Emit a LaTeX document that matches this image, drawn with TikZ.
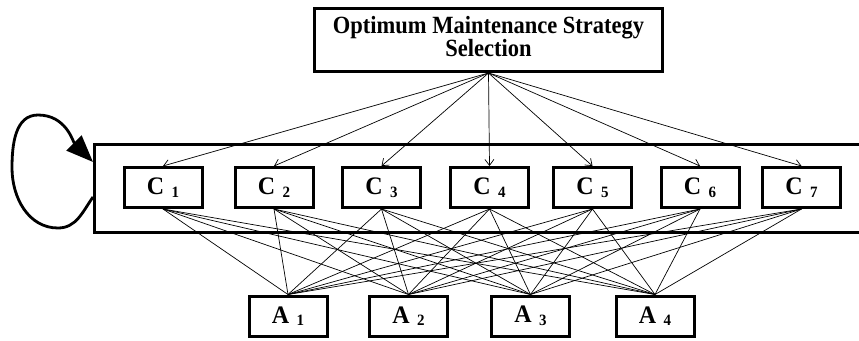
\documentclass[tikz,border=0pt]{standalone}
\usepackage{fontspec}
\setmainfont{Liberation Serif}
\usetikzlibrary{arrows.meta}
% letter with a lowered index, set a little taller than wide
\newcommand{\lbl}[2]{\scalebox{1}[1.05]{\fontsize{24}{24}\selectfont #1\hspace{0.3em}\raisebox{-2.5pt}{\fontsize{15}{15}\selectfont #2}}}

\begin{document}
\begin{tikzpicture}[
  x=1pt, y=-1pt,
  font=\bfseries\fontsize{22.5}{23}\selectfont,
  frm/.style={rectangle, draw, line width=3pt, inner sep=0pt},
  blk/.style={frm, minimum width=78pt, minimum height=40pt},
  arw/.style={-{Straight Barb[length=6pt, width=9pt]}, line width=0.7pt},
  lnk/.style={line width=0.7pt},
  fb/.style={-{Triangle[length=27pt, width=21pt]}, line width=2.8pt}
]
\useasboundingbox (0,0) rectangle (859,340);
\clip (0,0) rectangle (859,340);

% goal and the criteria cluster
\node[frm, minimum width=348pt, minimum height=63pt] (goal) at (488.5,40)
  {\scalebox{1}[1.1]{\begin{tabular}{@{}c@{}}Optimum Maintenance Strategy\\[-2pt]Selection\end{tabular}}};
\node[frm, minimum width=786pt, minimum height=88pt] (crit) at (487.5,188.5) {};

\foreach \x [count=\i] in {163,274,381.5,489.5,592.5,700,801.5}
  \node[blk] (c\i) at (\x,187.5) {\lbl{C}{\i}};
\foreach \x [count=\i] in {288,408.5,530.5,655}
  \node[blk] (a\i) at (\x,316) {\lbl{A}{\i}};

% goal -> criteria
\foreach \i in {1,...,7}
  \draw[arw] (goal.south) -- (c\i.north);

% criteria -- alternatives
\foreach \i in {1,...,7}
  \foreach \j in {1,...,4}
    \draw[lnk] (c\i.south) -- (a\j.north);

% inner dependence loop on the cluster
\coordinate (fbout) at ([yshift=-8.5pt]crit.west);
\coordinate (fbin) at ([yshift=26.5pt]crit.west);
\draw[fb] (fbout) to[out=235,in=0] (58,228) to[out=180,in=270] (12,168)
  to[out=90,in=180] (38,115) to[out=0,in=135] (fbin);
\end{tikzpicture}
\end{document}
